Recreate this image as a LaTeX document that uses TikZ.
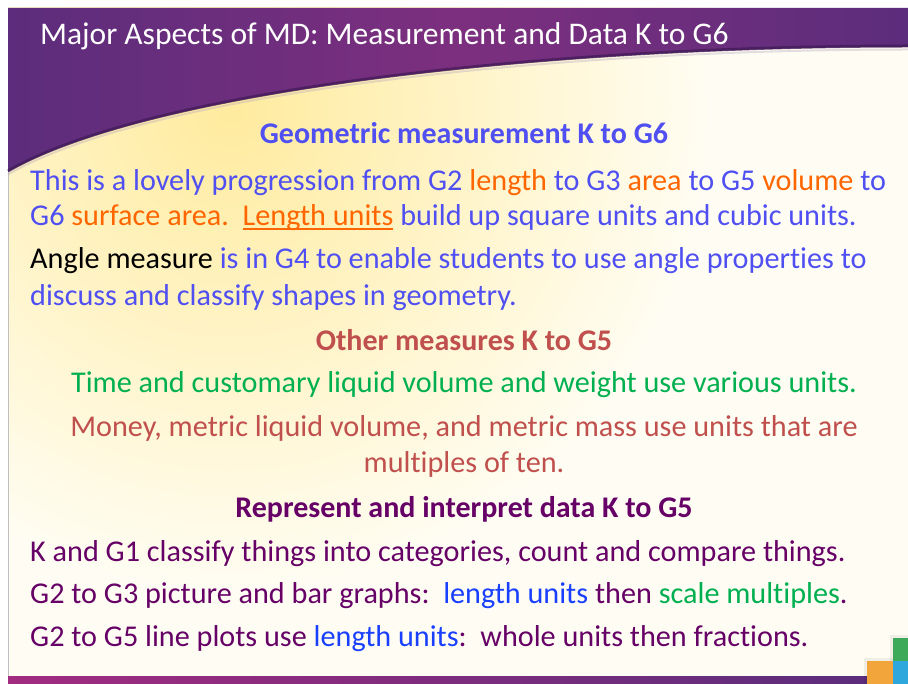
\documentclass[tikz,border=0pt]{standalone}
\usepackage{fontspec}
\setmainfont{Carlito}[Ligatures=NoCommon]
\definecolor{slidepurple}{HTML}{5C2D7C}
\definecolor{glowpurple}{HTML}{7C2F7E}
\definecolor{edgepurple}{HTML}{3E1A55}
\definecolor{barmagenta}{HTML}{A12C80}
\definecolor{paper}{HTML}{FFFDF3}
\definecolor{sunyellow}{HTML}{FFEB9E}
\definecolor{geoblue}{HTML}{5050F2}
\definecolor{unitorange}{HTML}{FF6600}
\definecolor{measred}{HTML}{C0504D}
\definecolor{timegreen}{HTML}{00B050}
\definecolor{datapurple}{HTML}{660066}
\definecolor{lenblue}{HTML}{1A40FF}
\definecolor{tileorange}{HTML}{F2A53A}
\definecolor{tileblue}{HTML}{2EA8DC}
\definecolor{tilegreen}{HTML}{3DAA5A}
% underline close to the baseline
\newcommand{\ulword}[1]{\setbox0\hbox{#1}\rlap{\rule[-4pt]{\wd0}{1.6pt}}\box0}
\tikzset{
  bodytext/.style={inner sep=0pt, font=\fontsize{30.2}{36}\selectfont},
  headtext/.style={inner sep=0pt, font=\fontsize{30}{36}\selectfont\bfseries, anchor=base},
  leftline/.style={bodytext, anchor=base west},
  midline/.style={bodytext, anchor=base}
}
\begin{document}
\begin{tikzpicture}[x=1pt, y=-1pt]
  \useasboundingbox (0,0) rectangle (908,684);
  \fill[white] (0,0) rectangle (908,684);
  % 1. Nền kem của trang chiếu
  \fill[paper] (8,8) rectangle (908,684);
  \begin{scope}
    \clip (8,8) rectangle (908,684);
    \shade[inner color=sunyellow, outer color=paper] (230-480,110-480) rectangle (230+480,110+480);
  \end{scope}
  \draw[gray!50, thin] (8.5,8) -- (8.5,684);
  % 2. Dải tiêu đề màu tím có mép cong
  \path[left color=slidepurple, right color=slidepurple, middle color=glowpurple]
    (8,8) -- (908,8) -- (908,47) .. controls (550,47) and (150,90) .. (8,172) -- cycle;
  \draw[edgepurple, line width=3pt, opacity=0.7]
    (908,46) .. controls (550,46) and (150,89) .. (8,171);
  \draw[edgepurple!40, line width=2pt, opacity=0.35]
    (908,49.5) .. controls (550,49.5) and (150,92.5) .. (8,174.5);
  \node[white, inner sep=0pt, anchor=base west, font=\fontsize{31.5}{36}\selectfont] (title) at (40,45)
    {Major Aspects of MD: Measurement and Data K to G6};
  % 3. Thanh đáy và các ô màu
  \fill[left color=barmagenta, right color=slidepurple] (8,676) rectangle (867,684);
  \fill[black, opacity=0.06] (864,658) rectangle (908,684);
  \fill[black, opacity=0.06] (890,635) rectangle (908,661);
  \fill[tileorange] (867,661) rectangle (893,684);
  \fill[tileblue] (893,661) rectangle (908,684);
  \fill[tilegreen] (893,638) rectangle (908,661);
  % 4. Đo lường hình học
  \node[headtext, geoblue] (geohead) at (464,144) {Geometric measurement K to G6};
  \node[leftline, geoblue] (geoa) at (30,191)
    {This is a lovely progression from G2 \textcolor{unitorange}{length} to G3 \textcolor{unitorange}{area} to G5 \textcolor{unitorange}{volume} to};
  \node[leftline, geoblue] (geob) at (30,226)
    {G6 \textcolor{unitorange}{surface area.}\ \ \textcolor{unitorange}{\ulword{Length units}} build up square units and cubic units.};
  \node[leftline, geoblue] (geoc) at (30,269)
    {\textcolor{black}{Angle measure} is in G4 to enable students to use angle properties to};
  \node[leftline, geoblue] (geod) at (30,306)
    {discuss and classify shapes in geometry.};
  % 5. Các đại lượng khác
  \node[headtext, measred] (otherhead) at (464,351) {Other measures K to G5};
  \node[midline, timegreen] (timeline) at (464,393)
    {Time and customary liquid volume and weight use various units.};
  \node[midline, measred] (moneya) at (464,437)
    {Money, metric liquid volume, and metric mass use units that are};
  \node[midline, measred] (moneyb) at (464,473) {multiples of ten.};
  % 6. Biểu diễn dữ liệu
  \node[headtext, datapurple] (datahead) at (464,517) {Represent and interpret data K to G5};
  \node[leftline, datapurple] (dataa) at (30,561)
    {K and G1 classify things into categories, count and compare things.};
  \node[leftline, datapurple] (datab) at (30,603)
    {G2 to G3 picture and bar graphs:\ \ \textcolor{lenblue}{length units} then \textcolor{timegreen}{scale multiples}.};
  \node[leftline, datapurple] (datac) at (30,646)
    {G2 to G5 line plots use \textcolor{lenblue}{length units}:\ \ whole units then fractions.};
\end{tikzpicture}
\end{document}
